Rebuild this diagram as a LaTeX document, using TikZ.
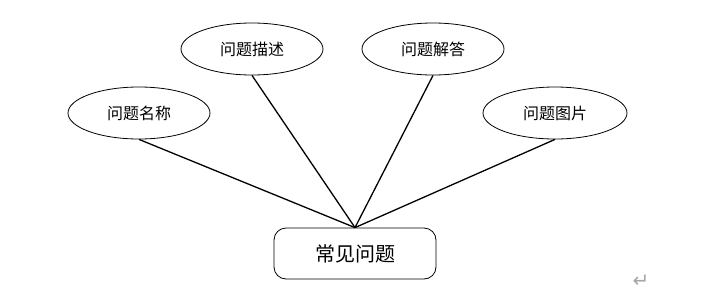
\documentclass[tikz,border=0pt]{standalone}
\usepackage{fontspec}
\newfontfamily\cjk{Noto Sans CJK SC}
\newfontfamily\dejavu{DejaVu Sans}
\usetikzlibrary{shapes.geometric}
\begin{document}
\begin{tikzpicture}[x=1pt,y=-1pt,
  attr/.style={draw=black,line width=0.8pt,ellipse,minimum width=142pt,minimum height=52pt,inner sep=0pt,font=\cjk\fontsize{16}{16}\selectfont},
  entity/.style={draw=black,line width=0.8pt,rounded corners=12pt,minimum width=162pt,minimum height=51pt,inner sep=0pt,font=\cjk\fontsize{20}{20}\selectfont},
  link/.style={line width=1.3pt,black}]
\useasboundingbox (0,0) rectangle (725,306);
\node[attr] (a1) at (139,113) {问题名称};
\node[attr] (a2) at (252,49) {问题描述};
\node[attr] (a3) at (433,49) {问题解答};
\node[attr,minimum width=144pt] (a4) at (555,113) {问题图片};
\node[entity] (e) at (355,253.5) {常见问题};
\coordinate (c) at (e.north);
\draw[link] (a1.south) -- (c);
\draw[link] (a2.south) -- (c);
\draw[link] (a3.south) -- (c);
\draw[link] (a4.south) -- (c);
\node[text=gray!70,font=\dejavu\fontsize{20}{20}\selectfont,inner sep=0pt] (ret) at (641,281) {↵};
\end{tikzpicture}
\end{document}
